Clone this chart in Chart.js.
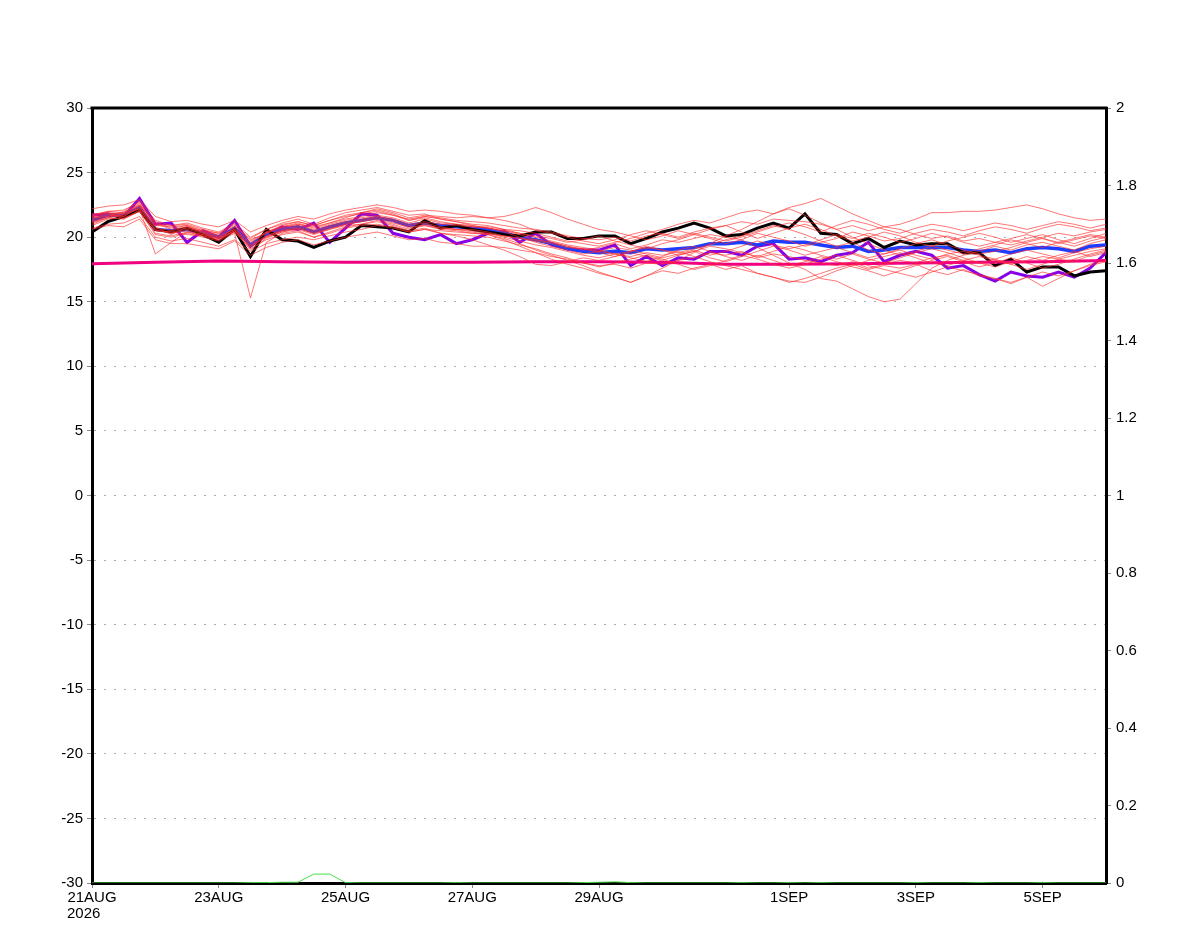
<!DOCTYPE html>
<html>
<head>
<meta charset="utf-8">
<script src="https://cdn.jsdelivr.net/npm/chart.js@4.4.1/dist/chart.umd.min.js"></script>
<style>
  body { margin: 0; background: #fff; }
  #wrap { width: 1200px; height: 927px; }
</style>
</head>
<body>
<div id="wrap"><canvas id="plume" width="1200" height="927"></canvas></div>
<script>
// 6-hourly steps from 21AUG2026 00Z, x is hours since start
const stepHours = 6;
const tickHours = [0, 48, 96, 144, 192, 264, 312, 360];
const tickLabels = [['21AUG', '2026    '], '23AUG', '25AUG', '27AUG', '29AUG', '1SEP', '3SEP', '5SEP'];

// control run (black)
const control = [20.4, 21.2, 21.6, 22.1, 20.6, 20.4, 20.7, 20.2, 19.6, 20.6, 18.5, 20.6, 19.8, 19.7, 19.2, 19.7,
  20.0, 20.9, 20.8, 20.7, 20.4, 21.3, 20.7, 20.9, 20.6, 20.4, 20.2, 20.1, 20.4, 20.4, 19.9, 19.9,
  20.1, 20.1, 19.5, 19.9, 20.4, 20.7, 21.1, 20.7, 20.1, 20.2, 20.7, 21.1, 20.7, 21.8, 20.3, 20.2,
  19.5, 19.9, 19.2, 19.7, 19.4, 19.5, 19.5, 18.8, 18.8, 17.8, 18.3, 17.3, 17.7, 17.7, 17.0, 17.3, 17.4];

// ensemble mean (blue)
const ensMean = [21.3, 21.7, 21.7, 22.3, 20.6, 20.5, 20.6, 20.3, 20.0, 20.7, 19.4, 20.2, 20.6, 20.8, 20.4, 20.8,
  21.1, 21.3, 21.5, 21.3, 20.9, 21.1, 20.9, 20.8, 20.7, 20.6, 20.3, 20.0, 19.8, 19.5, 19.1, 18.9,
  18.8, 18.9, 18.8, 19.1, 19.0, 19.1, 19.2, 19.5, 19.5, 19.6, 19.4, 19.7, 19.6, 19.6, 19.4, 19.2,
  19.3, 18.9, 19.0, 19.2, 19.2, 19.2, 19.2, 19.0, 18.9, 19.0, 18.8, 19.1, 19.2, 19.1, 18.9, 19.3, 19.4];

// deterministic run (purple)
const detRun = [21.7, 21.8, 21.6, 23.0, 21.0, 21.1, 19.6, 20.5, 20.0, 21.3, 19.3, 20.2, 20.8, 20.6, 21.1, 19.6,
  20.7, 21.8, 21.7, 20.3, 20.0, 19.8, 20.2, 19.5, 19.8, 20.3, 20.5, 19.6, 20.3, 19.4, 19.1, 19.0,
  19.0, 19.4, 17.8, 18.5, 17.8, 18.4, 18.3, 18.9, 18.9, 18.6, 19.3, 19.5, 18.3, 18.4, 18.1, 18.6,
  18.8, 19.6, 18.1, 18.6, 18.9, 18.6, 17.6, 17.8, 17.1, 16.6, 17.3, 17.0, 16.9, 17.3, 16.9, 17.6, 18.8];

// climatology (magenta), daily
const climHours = [0, 24, 48, 72, 96, 120, 144, 168, 192, 216, 240, 264, 288, 312, 336, 360, 384];
const climate = [17.95, 18.05, 18.15, 18.1, 18.05, 18.05, 18.05, 18.1, 18.1, 18.05, 17.9, 17.9, 17.95, 18.0, 18.05, 18.1, 18.2];

// precipitation on right axis (green)
const precip = [0, 0, 0, 0, 0, 0, 0, 0, 0, 0, 0.001, 0.001, 0.002, 0.002, 0.023, 0.023,
  0.001, 0, 0, 0, 0, 0, 0, 0.001, 0, 0, 0, 0, 0, 0, 0, 0.001,
  0.002, 0.003, 0.001, 0, 0, 0, 0, 0, 0, 0.001, 0, 0, 0.001, 0, 0.001, 0,
  0, 0, 0, 0, 0.001, 0, 0, 0, 0.001, 0, 0, 0, 0.001, 0, 0, 0, 0];

// ensemble members (red)
const member01 = [21.6, 22.0, 22.1, 22.7, 21.0, 20.9, 21.0, 20.6, 20.3, 20.9, 19.9, 20.6, 21.0, 21.2, 20.9, 21.3, 21.6, 21.8, 22.0, 21.7, 21.4, 21.6, 21.5, 21.3, 21.2, 21.1, 20.9, 20.7, 20.6, 20.4, 20.1, 19.9, 19.8, 20.0, 19.7, 20.1, 20.3, 20.0, 20.4, 20.7, 20.9, 21.2, 21.0, 21.4, 21.3, 21.2, 21.0, 20.6, 20.9, 20.5, 20.8, 21.0, 21.4, 21.9, 21.9, 22.0, 22.0, 22.1, 22.3, 22.5, 22.2, 21.8, 21.5, 21.3, 21.4];
const member02 = [20.9, 21.4, 21.5, 22.0, 20.2, 20.0, 20.3, 20.0, 19.7, 20.3, 15.3, 19.6, 20.3, 20.5, 20.0, 20.3, 20.7, 20.9, 21.0, 20.8, 20.4, 20.6, 20.3, 20.2, 20.1, 20.0, 19.7, 19.4, 19.1, 18.7, 18.4, 18.0, 17.8, 17.9, 17.6, 18.0, 17.9, 18.2, 18.4, 18.8, 18.6, 18.9, 18.4, 18.7, 18.5, 18.2, 18.0, 17.8, 18.1, 17.6, 17.9, 18.2, 18.0, 18.4, 18.6, 18.2, 18.0, 18.3, 17.9, 18.2, 18.5, 18.3, 18.1, 18.6, 18.9];
const member03 = [21.5, 21.8, 21.6, 22.4, 20.8, 20.2, 20.8, 20.5, 20.1, 20.6, 19.6, 20.4, 20.8, 21.0, 20.6, 21.0, 21.3, 21.5, 21.7, 21.5, 21.1, 21.4, 21.1, 21.0, 20.9, 20.7, 20.5, 20.2, 19.8, 19.6, 19.3, 19.0, 19.2, 19.5, 19.1, 19.4, 19.8, 19.6, 19.9, 20.2, 20.0, 19.8, 19.2, 18.6, 18.0, 17.5, 16.8, 16.6, 16.0, 15.4, 15.0, 15.2, 16.4, 17.6, 18.2, 18.6, 18.9, 19.3, 19.0, 19.4, 19.6, 19.3, 19.0, 19.5, 19.8];
const member04 = [21.0, 21.5, 21.9, 22.5, 21.2, 20.7, 20.9, 20.4, 20.2, 20.8, 19.8, 20.3, 20.7, 21.0, 20.8, 21.1, 21.5, 21.9, 22.1, 21.8, 21.3, 21.5, 21.2, 21.0, 20.8, 20.8, 20.6, 20.5, 20.3, 20.0, 19.7, 19.5, 19.3, 19.6, 19.9, 20.3, 20.6, 21.0, 21.3, 21.1, 21.5, 21.9, 22.1, 21.8, 22.3, 22.6, 23.0, 22.4, 21.8, 21.3, 20.8, 20.6, 20.2, 19.9, 20.1, 19.7, 19.9, 19.6, 19.4, 19.7, 20.0, 20.3, 20.1, 20.4, 20.6];
const member05 = [21.8, 21.9, 21.4, 22.1, 20.5, 20.4, 20.2, 20.1, 19.8, 20.5, 19.0, 19.9, 20.4, 20.6, 20.2, 20.6, 20.9, 21.0, 21.3, 21.0, 20.6, 20.9, 20.6, 20.5, 20.3, 20.2, 19.9, 19.5, 19.0, 18.6, 18.2, 17.8, 17.3, 16.9, 16.5, 17.0, 17.4, 17.2, 17.6, 17.9, 17.5, 17.8, 17.2, 16.9, 16.5, 16.8, 17.2, 17.6, 17.9, 17.5, 17.8, 17.6, 17.9, 17.4, 17.1, 17.5, 17.0, 16.8, 16.5, 16.9, 17.3, 17.0, 17.4, 17.8, 18.1];
const member06 = [21.2, 21.6, 21.8, 22.2, 18.7, 19.6, 20.4, 20.2, 19.9, 20.4, 19.2, 20.0, 20.5, 20.7, 20.3, 20.6, 21.0, 21.2, 21.4, 21.1, 20.8, 20.9, 20.7, 20.6, 20.6, 20.4, 20.1, 19.9, 19.7, 19.5, 19.2, 19.1, 18.9, 18.7, 18.9, 19.2, 19.0, 18.8, 19.1, 19.4, 19.8, 20.1, 20.5, 20.9, 20.6, 20.2, 19.7, 19.3, 19.6, 19.0, 18.7, 19.1, 19.5, 19.8, 19.4, 19.0, 18.7, 18.9, 19.2, 19.6, 19.9, 19.6, 19.3, 19.7, 20.0];
const member07 = [21.4, 21.8, 21.9, 22.6, 20.9, 20.8, 20.9, 20.5, 20.3, 21.0, 19.7, 20.4, 20.9, 21.2, 20.9, 21.3, 21.7, 21.9, 22.2, 21.9, 21.5, 21.7, 21.6, 21.5, 21.6, 21.5, 21.6, 21.9, 22.3, 21.9, 21.4, 21.0, 20.6, 20.4, 20.1, 19.8, 20.1, 20.5, 20.2, 19.9, 19.5, 19.8, 20.3, 20.0, 19.7, 19.3, 19.6, 19.9, 20.4, 20.1, 19.7, 19.9, 20.3, 20.6, 20.4, 20.1, 20.5, 20.8, 20.6, 20.3, 20.7, 21.0, 20.8, 20.5, 20.7];
const member08 = [21.1, 21.5, 21.4, 22.0, 20.3, 20.1, 20.4, 20.1, 19.8, 20.4, 19.1, 19.8, 20.2, 20.4, 20.0, 20.4, 20.8, 21.0, 21.2, 20.9, 20.5, 20.7, 20.3, 20.1, 19.8, 19.4, 19.0, 18.5, 17.9, 17.8, 18.1, 18.4, 18.2, 18.5, 18.8, 18.5, 18.2, 18.6, 18.9, 18.4, 18.1, 18.5, 18.9, 19.3, 19.0, 18.6, 18.9, 19.2, 18.8, 18.4, 18.7, 19.0, 18.6, 18.3, 18.7, 18.9, 18.6, 18.3, 18.7, 19.0, 18.7, 18.4, 18.8, 19.1, 19.3];
const member09 = [21.6, 21.9, 21.8, 22.4, 20.7, 20.5, 20.7, 20.4, 20.0, 20.6, 19.4, 20.1, 20.6, 20.9, 20.5, 20.9, 21.2, 21.4, 21.6, 21.3, 20.9, 21.1, 20.8, 20.6, 20.4, 20.2, 19.8, 19.3, 18.8, 18.3, 17.9, 17.6, 17.2, 16.9, 16.5, 17.0, 17.6, 18.2, 18.8, 19.5, 20.1, 20.6, 21.2, 21.8, 22.2, 21.7, 21.1, 20.6, 20.0, 19.5, 19.0, 18.6, 18.9, 19.3, 19.0, 18.7, 19.1, 19.4, 19.8, 19.5, 19.2, 19.6, 19.9, 20.2, 20.0];
const member10 = [21.3, 21.7, 21.6, 22.3, 20.6, 20.3, 20.5, 20.2, 19.9, 20.5, 19.3, 20.0, 20.4, 20.7, 20.3, 20.7, 21.0, 21.2, 21.5, 21.2, 20.7, 21.0, 20.7, 20.6, 20.5, 20.3, 20.0, 19.7, 19.4, 19.2, 18.9, 18.6, 18.4, 18.7, 18.5, 18.8, 18.6, 18.9, 18.5, 18.1, 17.8, 17.5, 17.2, 16.9, 16.6, 16.5, 16.9, 17.4, 17.8, 18.2, 18.5, 18.8, 18.4, 18.0, 17.8, 18.2, 18.5, 18.2, 17.9, 17.5, 17.9, 18.3, 18.6, 18.9, 19.1];
const member11 = [21.7, 22.0, 21.9, 22.5, 21.1, 20.6, 20.8, 20.3, 20.0, 20.7, 19.5, 20.3, 20.8, 21.1, 20.7, 21.1, 21.4, 21.6, 21.9, 21.7, 21.3, 21.6, 21.4, 21.2, 21.0, 20.9, 20.6, 20.3, 20.1, 19.9, 19.6, 19.8, 20.1, 19.7, 19.4, 19.1, 19.5, 19.8, 20.2, 20.6, 20.9, 20.4, 19.9, 20.3, 20.7, 21.0, 20.6, 20.1, 19.7, 20.0, 20.4, 20.1, 19.6, 19.3, 19.7, 20.0, 20.3, 20.0, 19.6, 19.9, 20.2, 19.8, 19.5, 19.9, 20.3];
const member12 = [20.7, 21.0, 21.1, 21.6, 20.0, 19.7, 19.9, 19.6, 19.3, 19.8, 18.9, 19.5, 19.8, 20.0, 19.8, 20.1, 20.4, 20.6, 20.9, 20.7, 20.4, 20.6, 20.5, 20.4, 20.3, 20.3, 20.1, 19.9, 19.8, 19.6, 19.3, 19.1, 18.8, 18.5, 18.9, 19.3, 19.0, 18.6, 18.9, 19.3, 19.1, 18.8, 18.5, 18.9, 19.3, 19.0, 18.6, 18.3, 18.7, 18.3, 18.0, 18.4, 18.8, 19.1, 18.8, 18.4, 18.0, 17.7, 18.1, 18.5, 18.2, 18.6, 18.9, 18.5, 18.8];
const member13 = [21.5, 21.6, 22.0, 22.8, 21.3, 20.9, 21.1, 20.7, 20.4, 21.1, 20.0, 20.6, 21.1, 21.4, 21.0, 21.5, 21.9, 22.1, 22.3, 22.0, 21.7, 21.8, 21.4, 21.2, 20.9, 20.7, 20.4, 20.0, 19.6, 19.3, 19.0, 18.7, 18.9, 19.2, 19.0, 18.7, 18.4, 18.7, 19.0, 18.6, 18.9, 19.3, 19.7, 19.4, 19.1, 19.4, 19.8, 20.2, 19.9, 20.3, 20.0, 19.6, 19.9, 20.3, 20.0, 19.6, 19.3, 19.6, 19.9, 20.2, 19.9, 19.5, 19.8, 20.1, 19.9];
const member14 = [20.6, 20.9, 20.8, 21.4, 19.8, 19.5, 19.5, 19.3, 19.1, 19.7, 18.6, 19.2, 19.6, 19.8, 19.4, 19.7, 20.0, 20.2, 20.4, 20.1, 19.8, 19.9, 19.6, 19.5, 19.3, 19.3, 19.2, 19.0, 18.8, 18.5, 18.3, 18.0, 17.7, 18.0, 18.3, 18.6, 18.3, 17.9, 17.5, 17.8, 18.2, 18.6, 18.3, 17.9, 17.6, 17.9, 18.3, 18.6, 18.2, 17.8, 17.5, 17.2, 16.9, 17.3, 17.7, 17.4, 17.1, 16.8, 16.4, 16.9, 16.2, 16.8, 17.4, 17.9, 18.2];
const member15 = [22.2, 22.4, 22.5, 22.9, 21.6, 21.2, 21.3, 21.0, 20.8, 21.3, 20.4, 20.9, 21.3, 21.6, 21.4, 21.8, 22.1, 22.3, 22.5, 22.3, 22.0, 22.1, 22.0, 21.8, 21.7, 21.5, 21.3, 21.0, 20.5, 20.3, 20.0, 19.7, 19.5, 19.8, 20.2, 20.5, 20.2, 19.9, 20.3, 20.0, 19.7, 20.0, 20.4, 20.8, 21.1, 20.8, 20.4, 20.9, 21.3, 21.0, 20.6, 20.3, 20.7, 21.0, 20.8, 20.5, 20.8, 21.1, 20.9, 20.6, 20.9, 21.2, 21.0, 20.7, 21.0];
const member16 = [21.2, 21.5, 21.7, 22.2, 20.5, 20.4, 20.6, 20.3, 19.9, 20.5, 19.3, 20.1, 20.5, 20.8, 20.4, 20.8, 21.1, 21.3, 21.6, 21.4, 21.0, 21.2, 21.0, 20.9, 20.8, 20.7, 20.5, 20.3, 20.0, 19.7, 19.4, 19.2, 19.0, 18.7, 18.4, 18.1, 18.5, 19.0, 19.3, 18.9, 18.5, 18.2, 18.6, 18.2, 17.8, 18.1, 18.5, 18.1, 17.7, 17.4, 17.0, 17.4, 17.8, 18.2, 18.5, 18.1, 17.7, 18.0, 18.4, 18.0, 17.6, 17.9, 18.3, 18.7, 19.0];

const members = [member01, member02, member03, member04, member05, member06, member07, member08,
  member09, member10, member11, member12, member13, member14, member15, member16];

const toPoints = (values) => values.map((v, i) => ({ x: i * stepHours, y: v }));

const lineSet = (values, color, width, axis) => ({
  data: toPoints(values),
  borderColor: color,
  borderWidth: width,
  pointRadius: 0,
  tension: 0,
  fill: false,
  yAxisID: axis || 'y',
});

const datasets = [];
for (const m of members) {
  datasets.push(lineSet(m, 'rgba(255, 45, 45, 0.65)', 1));
}
datasets.push({
  data: climHours.map((h, i) => ({ x: h, y: climate[i] })),
  borderColor: 'rgb(240, 0, 128)',
  borderWidth: 3,
  pointRadius: 0,
  fill: false,
  yAxisID: 'y',
});
datasets.push(lineSet(control, 'rgb(0, 0, 0)', 3));
datasets.push(lineSet(ensMean, 'rgb(30, 60, 255)', 3.5));
datasets.push(lineSet(detRun, 'rgb(135, 0, 230)', 3));
datasets.push(lineSet(precip, 'rgb(70, 225, 70)', 1, 'y2'));

// top edge of the frame
const frameTop = {
  id: 'frameTop',
  afterDraw(chart) {
    const { ctx, chartArea } = chart;
    ctx.save();
    ctx.strokeStyle = '#000';
    ctx.lineWidth = 3;
    ctx.beginPath();
    ctx.moveTo(chartArea.left - 1.5, chartArea.top);
    ctx.lineTo(chartArea.right + 1.5, chartArea.top);
    ctx.stroke();
    ctx.restore();
  }
};

const tickFont = { family: 'Liberation Sans, Arial, sans-serif', size: 15, lineHeight: 1.08 };

new Chart(document.getElementById('plume').getContext('2d'), {
  type: 'line',
  data: { datasets: datasets },
  options: {
    responsive: false,
    animation: false,
    devicePixelRatio: 1,
    layout: { padding: { top: 108, left: 0, right: 0, bottom: 0 } },
    plugins: {
      legend: { display: false },
      title: { display: false },
      tooltip: { enabled: false },
    },
    scales: {
      x: {
        type: 'linear',
        min: 0,
        max: 384,
        afterBuildTicks: (scale) => {
          scale.ticks = tickHours.map(h => ({ value: h }));
        },
        afterFit: (scale) => { scale.height = 44; },
        ticks: {
          autoSkip: false,
          maxRotation: 0,
          padding: 2,
          color: '#000',
          font: tickFont,
          callback: (value, index) => tickLabels[index],
        },
        grid: {
          drawOnChartArea: false,
          tickLength: 5,
          tickColor: '#888',
        },
        border: { display: true, color: '#000', width: 3 },
      },
      y: {
        position: 'left',
        min: -30,
        max: 30,
        afterBuildTicks: (scale) => {
          const t = [];
          for (let v = -30; v <= 30; v += 5) t.push({ value: v });
          scale.ticks = t;
        },
        afterFit: (scale) => { scale.width = 92; },
        ticks: {
          padding: 4,
          color: '#000',
          font: tickFont,
        },
        grid: {
          color: '#aaa',
          lineWidth: 1,
          tickLength: 5,
          tickColor: '#888',
          tickBorderDash: [],
        },
        border: { display: true, color: '#000', width: 3, dash: [2, 8] },
      },
      y2: {
        position: 'right',
        min: 0,
        max: 2,
        afterBuildTicks: (scale) => {
          const t = [];
          for (let k = 0; k <= 10; k++) t.push({ value: k / 5 });
          scale.ticks = t;
        },
        afterFit: (scale) => { scale.width = 94; },
        ticks: {
          padding: 5,
          color: '#000',
          font: tickFont,
          callback: (v) => String(parseFloat(v.toFixed(1))),
        },
        grid: {
          drawOnChartArea: false,
          tickLength: 5,
          tickColor: '#888',
        },
        border: { display: true, color: '#000', width: 3 },
      },
    },
  },
  plugins: [frameTop],
});
</script>
</body>
</html>
